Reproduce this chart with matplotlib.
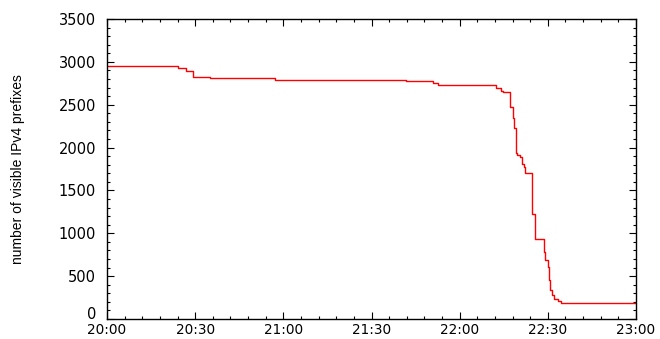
import matplotlib
matplotlib.use("Agg")
import matplotlib.pyplot as plt
from matplotlib.ticker import MultipleLocator

# minutes after 20:00 at which the count changes, and the new count
change_min = [0, 24.0, 26.9, 29.1, 35.0, 57.0, 101.6, 111.0, 112.7,
              132.5, 134.2, 134.9, 137.2, 138.3, 138.6, 139.0, 139.2,
              139.6, 140.5, 141.2, 141.8, 142.3, 144.6, 145.8, 148.8,
              149.2, 150.1, 150.4, 150.7, 151.3, 152.1, 153.5, 154.6,
              167.7, 180.0]
prefixes = [2955, 2928, 2893, 2823, 2812, 2788, 2777, 2750, 2726,
            2691, 2664, 2652, 2470, 2341, 2225, 2135, 1937,
            1913, 1886, 1808, 1770, 1700, 1225, 937, 786,
            688, 610, 455, 338, 280, 230, 210, 192,
            183, 183]

xtick_min = [0, 30, 60, 90, 120, 150, 180]
xtick_labels = ["20:00", "20:30", "21:00", "21:30", "22:00", "22:30", "23:00"]
ytick_vals = [0, 500, 1000, 1500, 2000, 2500, 3000, 3500]
ylabel = "number of visible IPv4 prefixes"

plt.rcParams["font.family"] = ["DejaVu Sans"]

fig = plt.figure(figsize=(6.6, 3.39), dpi=100)
ax = fig.add_axes([107 / 660, 1 - 319 / 339, 529 / 660, 300 / 339])

ax.step(change_min, prefixes, where="post", color="red", lw=1.0)

ax.set_xlim(0, 180)
ax.set_ylim(0, 3500)
ax.set_xticks(xtick_min)
ax.set_xticklabels(xtick_labels)
ax.set_yticks(ytick_vals)
ax.xaxis.set_minor_locator(MultipleLocator(6))
ax.yaxis.set_minor_locator(MultipleLocator(100))
ax.tick_params(which="both", direction="in", top=True, right=True,
               labelsize=10.5, width=0.8)
ax.tick_params(which="major", length=5)
ax.tick_params(which="minor", length=2.5)
ax.tick_params(axis="x", which="major", pad=3, labelsize=9.8)
ax.tick_params(axis="y", which="major", pad=8)
for s in ax.spines.values():
    s.set_linewidth(1.0)

# sit the "0" label on the axis so it clears the first time label
ax.yaxis.get_major_ticks()[0].label1.set_va("baseline")

fig.text(18 / 660, 0.5, ylabel, rotation=90, va="center", ha="center",
         fontsize=10, family=["Liberation Sans Narrow", "Liberation Sans"])

fig.savefig("out.png", dpi=100)
